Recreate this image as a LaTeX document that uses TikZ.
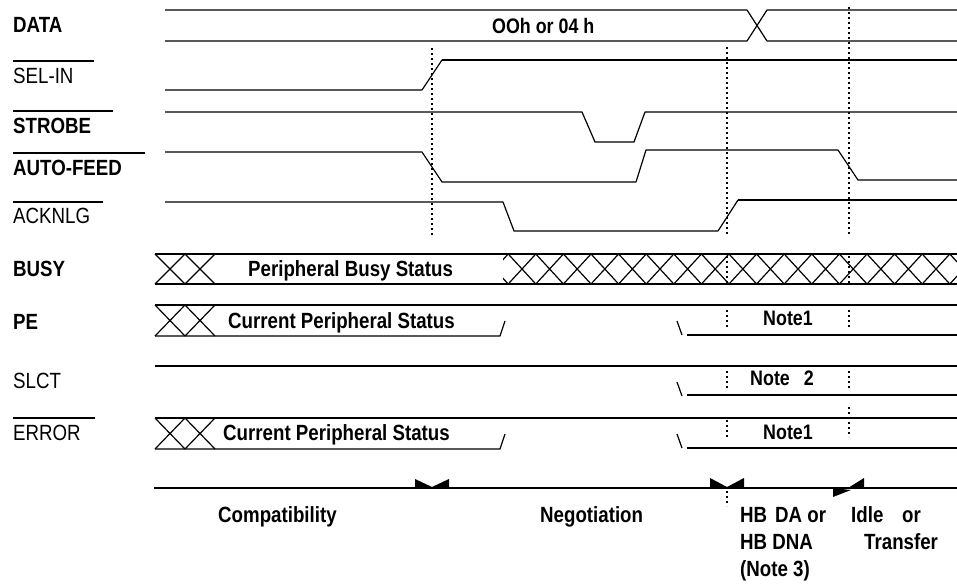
\documentclass[tikz,border=0pt]{standalone}
\usepackage{fontspec}
\setmainfont{Liberation Sans}[FakeStretch=0.85]
\begin{document}
\begin{tikzpicture}[x=1pt,y=-1pt,
  sig/.style={line width=1.2pt, line join=round},
  hsig/.style={line width=2pt},
  vdash/.style={line width=1.1pt, dash pattern=on 2pt off 3pt},
  lab/.style={font=\fontsize{22}{24}\selectfont\bfseries, inner sep=0pt, anchor=west, text height=15.5pt, text depth=0pt},
  labm/.style={lab, font=\fontsize{22}{24}\selectfont},
  small/.style={lab, font=\fontsize{21}{23}\selectfont\bfseries, text height=14.5pt},
  tip/.style={fill=black, draw=none}]
\useasboundingbox (0,0) rectangle (957,583);
% ---------- signal names ----------
\node[lab]  (nData)  at (13,25)  {DATA};
\node[labm] (nSel)   at (13,76)  {SEL-IN};
\node[lab]  (nStr)   at (13,126) {STROBE};
\node[lab]  (nAuto)  at (13,168) {AUTO-FEED};
\node[labm] (nAck)   at (13,216) {ACKNLG};
\node[lab]  (nBusy)  at (13,269) {BUSY};
\node[lab]  (nPE)    at (13,322) {PE};
\node[labm] (nSlct)  at (13,381) {SLCT};
\node[labm] (nErr)   at (13,433) {ERROR};
% overbars
\draw[sig] (13,61)  -- (94,61);
\draw[sig] (13,111) -- (113,111);
\draw[sig] (13,153) -- (145,153);
\draw[sig] (13,202) -- (103,202);
\draw[sig] (13,418) -- (95,418);
% ---------- DATA ----------
\draw[sig] (165,10) -- (747,10) -- (767,41) -- (957,41);
\draw[sig] (165,41) -- (747,41) -- (767,10) -- (957,10);
\node[small] (tData) at (492,26) {OOh or 04 h};
% ---------- SEL-IN ----------
\draw[sig] (165,90) -- (422,90) -- (442,60);
\draw[hsig] (442,60) -- (957,60);
% ---------- STROBE ----------
\draw[sig] (165,112) -- (582,112) -- (595,142) -- (634,142) -- (645,112) -- (957,112);
% ---------- AUTO-FEED ----------
\draw[sig] (165,152) -- (422,152) -- (442,182) -- (636,182) -- (646,150) -- (838,150) -- (858,180) -- (957,180);
% ---------- ACKNLG ----------
\draw[sig] (165,202) -- (503,202) -- (514,231) -- (718,231) -- (738,200);
\draw[hsig] (738,200) -- (957,200);
% ---------- vertical markers ----------
\draw[vdash] (432,48) -- (432,236);
\draw[vdash] (727,47) -- (727,236);
\draw[vdash] (849,7)  -- (849,236);
\draw[vdash] (727,256) -- (727,283);
\draw[vdash] (849,256) -- (849,283);
\draw[vdash] (727,310) -- (727,328);
\draw[vdash] (849,310) -- (849,328);
\draw[vdash] (727,371) -- (727,388);
\draw[vdash] (849,371) -- (849,388);
\draw[vdash] (727,420) -- (727,437);
\draw[vdash] (849,407) -- (849,437);
\draw[vdash] (727,491) -- (727,506);
% ---------- BUSY ----------
\draw[sig] (155,254) -- (957,254);
\draw[sig] (155,284) -- (957,284);
\draw[sig] (155,254) -- (185,284) (155,284) -- (185,254) (185,254) -- (215,284) (185,284) -- (215,254);
\node[lab] (tBusy) at (248,269) {Peripheral Busy Status};
\begin{scope}
  \clip (503,250) rectangle (957,288);
  \foreach \k in {-1,...,16} {
    \pgfmathsetmacro\c{522+27.6*\k}
    \draw[sig] (\c-13.8,254) -- (\c+13.8,284) (\c-13.8,284) -- (\c+13.8,254);
  }
\end{scope}
% ---------- PE ----------
\draw[sig] (155,305) -- (957,305);
\draw[sig] (155,336) -- (500,336) -- (505,321);
\draw[sig] (155,305) -- (185,336) (155,336) -- (185,305) (185,305) -- (215,336) (185,336) -- (215,305);
\node[lab] (tPE) at (228,321) {Current Peripheral Status};
\draw[sig] (677,321) -- (682,335);
\draw[sig] (687,335) -- (957,335);
\node[small] (nNoteA) at (763,318) {Note1};
% ---------- SLCT ----------
\draw[sig] (155,366) -- (957,366);
\draw[sig] (677,382) -- (682,396);
\draw[sig] (687,395) -- (957,395);
\node[small] (nNoteB) at (750,378) {Note\hspace{14pt}2};
% ---------- ERROR ----------
\draw[sig] (155,418) -- (957,418);
\draw[sig] (155,449) -- (500,449) -- (505,434);
\draw[sig] (155,418) -- (185,449) (155,449) -- (185,418) (185,418) -- (215,449) (185,449) -- (215,418);
\node[lab] (tErr) at (223,433) {Current Peripheral Status};
\draw[sig] (677,434) -- (682,448);
\draw[sig] (687,448) -- (957,448);
\node[small] (nNoteC) at (763,432) {Note1};
% ---------- phase line ----------
\draw[sig] (154,488) -- (957,488);
\fill[tip] (415,479) -- (432,487) -- (449,479) -- (449,488) -- (415,488) -- cycle;
\fill[tip] (710,478) -- (727,487) -- (744,478) -- (744,488) -- (710,488) -- cycle;
\fill[tip] (833,488) -- (851,490) -- (833,497) -- cycle;
\fill[tip] (848,488) -- (864,478) -- (864,489) -- cycle;
\node[lab] (pComp) at (218,515) {Compatibility};
\node[lab] (pNeg)  at (540,515) {Negotiation};
\node[lab] (pHB)   at (740,515) {HB\hspace{8pt}DA or};
\node[lab] (pIdle) at (851,515) {Idle};
\node[lab] (pOr)   at (902,515) {or};
\node[lab] (pDNA)  at (740,542) {HB DNA};
\node[lab] (pTr)   at (864,542) {Transfer};
\node[lab] (pN3)   at (740,569) {(Note 3)};
\end{tikzpicture}
\end{document}
